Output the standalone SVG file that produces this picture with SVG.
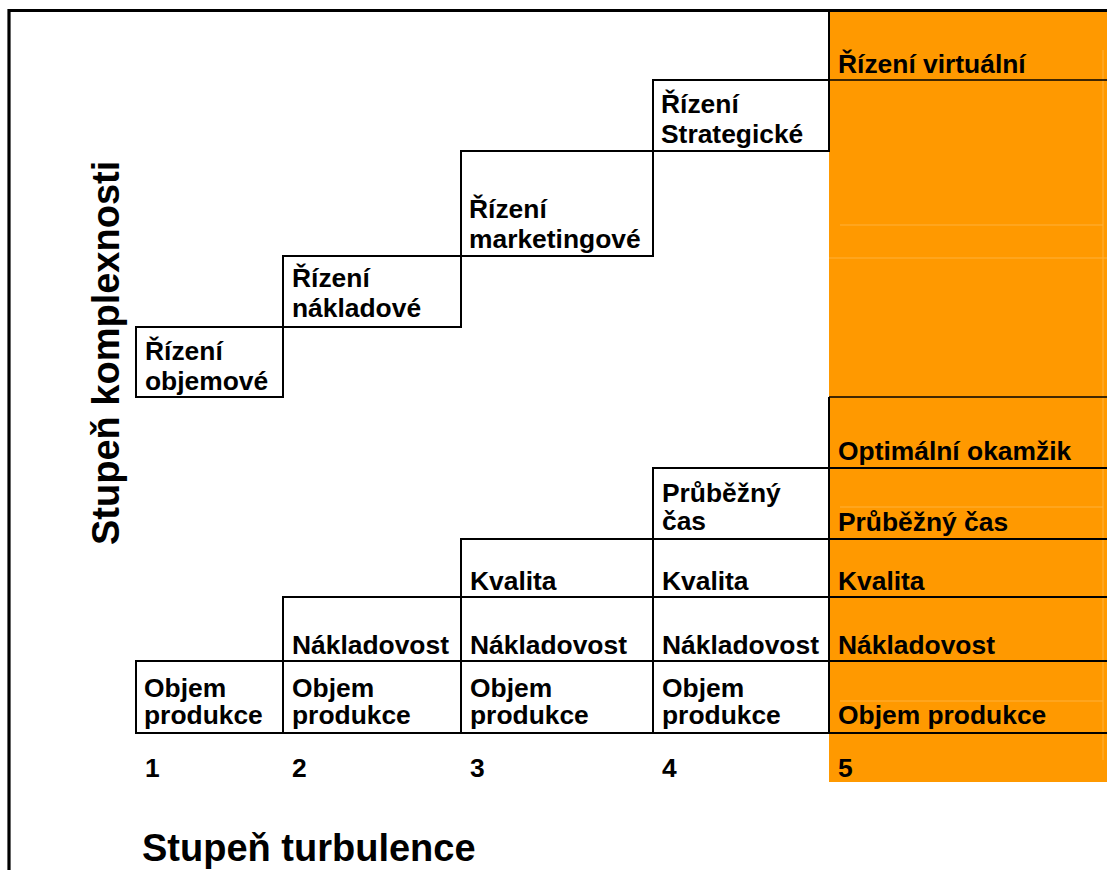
<svg xmlns="http://www.w3.org/2000/svg" width="1107" height="870" viewBox="0 0 1107 870">
<style>
text{font-family:"Liberation Sans",Arial,sans-serif;font-weight:bold;fill:#000}
.t{font-size:26.4px}
.ax{font-size:38px}
.cell{fill:none;stroke:#000;stroke-width:2}
.ln{stroke:#000;stroke-width:2;fill:none}
.frm{stroke:#000;stroke-width:3.2;fill:none}
.thin{stroke:#000;stroke-width:1.4;fill:none}
.faint{stroke:#FFB13B;stroke-width:1;fill:none}
</style>
<rect width="1107" height="870" fill="#fff"/>
<g id="level5-band">
<rect x="829" y="11" width="278" height="771" fill="#FF9900"/>
<line class="faint" x1="840" y1="225" x2="1103" y2="225"/>
<line class="faint" x1="829" y1="258" x2="1107" y2="258"/>
<line class="faint" x1="840" y1="507" x2="1103" y2="507"/>
<line class="faint" x1="840" y1="701" x2="1103" y2="701"/>
<line class="faint" x1="1103" y1="50" x2="1103" y2="760"/>
</g>
<g id="frame">
<path class="frm" d="M9,870 V10.5 H1107"/>
</g>
<g id="axis-y"><text class="ax" transform="translate(119,545) rotate(-90)">Stupeň komplexnosti</text></g>
<g id="axis-x"><text class="ax" x="142" y="861">Stupeň turbulence</text></g>

<g id="r-objemove"><rect class="cell" x="136" y="327" width="147" height="70"/><text class="t" x="145" y="360">Řízení</text><text class="t" x="145" y="390">objemové</text></g>
<g id="r-nakladove"><rect class="cell" x="283" y="256" width="178" height="71"/><text class="t" x="292" y="287">Řízení</text><text class="t" x="292" y="317">nákladové</text></g>
<g id="r-marketingove"><rect class="cell" x="461" y="151" width="192" height="105"/><text class="t" x="469" y="218">Řízení</text><text class="t" x="469" y="248">marketingové</text></g>
<g id="r-strategicke"><rect class="cell" x="653" y="80" width="176" height="71"/><text class="t" x="661" y="113">Řízení</text><text class="t" x="661" y="143">Strategické</text></g>
<g id="r-virtualni"><line class="ln" x1="829" y1="11" x2="829" y2="80"/><line class="thin" x1="829" y1="80" x2="1107" y2="80"/><text class="t" x="838" y="73">Řízení virtuální</text></g>

<g id="c1-objem"><rect class="cell" x="136" y="661" width="147" height="72"/><text class="t" x="144" y="697">Objem</text><text class="t" x="144" y="724">produkce</text></g>
<g id="c2-nakl"><rect class="cell" x="283" y="597" width="178" height="64"/><text class="t" x="292" y="654">Nákladovost</text></g>
<g id="c2-objem"><rect class="cell" x="283" y="661" width="178" height="72"/><text class="t" x="292" y="697">Objem</text><text class="t" x="292" y="724">produkce</text></g>
<g id="c3-kval"><rect class="cell" x="461" y="539" width="192" height="58"/><text class="t" x="470" y="590">Kvalita</text></g>
<g id="c3-nakl"><rect class="cell" x="461" y="597" width="192" height="64"/><text class="t" x="470" y="654">Nákladovost</text></g>
<g id="c3-objem"><rect class="cell" x="461" y="661" width="192" height="72"/><text class="t" x="470" y="697">Objem</text><text class="t" x="470" y="724">produkce</text></g>
<g id="c4-cas"><rect class="cell" x="653" y="468" width="176" height="71"/><text class="t" x="662" y="502">Průběžný</text><text class="t" x="662" y="530">čas</text></g>
<g id="c4-kval"><rect class="cell" x="653" y="539" width="176" height="58"/><text class="t" x="662" y="590">Kvalita</text></g>
<g id="c4-nakl"><rect class="cell" x="653" y="597" width="176" height="64"/><text class="t" x="662" y="654">Nákladovost</text></g>
<g id="c4-objem"><rect class="cell" x="653" y="661" width="176" height="72"/><text class="t" x="662" y="697">Objem</text><text class="t" x="662" y="724">produkce</text></g>

<g id="c5-opt"><line class="thin" x1="829" y1="397" x2="1107" y2="397"/><line class="ln" x1="829" y1="397" x2="829" y2="468"/><text class="t" x="838" y="460">Optimální okamžik</text></g>
<g id="c5-cas"><line class="ln" x1="829" y1="468" x2="1107" y2="468"/><line class="ln" x1="829" y1="468" x2="829" y2="539"/><text class="t" x="838" y="531">Průběžný čas</text></g>
<g id="c5-kval"><line class="ln" x1="829" y1="539" x2="1107" y2="539"/><line class="ln" x1="829" y1="539" x2="829" y2="597"/><text class="t" x="838" y="590">Kvalita</text></g>
<g id="c5-nakl"><line class="ln" x1="829" y1="597" x2="1107" y2="597"/><line class="ln" x1="829" y1="597" x2="829" y2="661"/><text class="t" x="838" y="654">Nákladovost</text></g>
<g id="c5-objem"><line class="ln" x1="829" y1="661" x2="1107" y2="661"/><line class="ln" x1="829" y1="661" x2="829" y2="733"/><line class="ln" x1="829" y1="733" x2="1107" y2="733"/><text class="t" x="838" y="724">Objem produkce</text></g>

<g id="levels">
<text class="t" x="145" y="777">1</text>
<text class="t" x="292" y="777">2</text>
<text class="t" x="470" y="777">3</text>
<text class="t" x="662" y="777">4</text>
<text class="t" x="838" y="777">5</text>
</g>
<g id="connectors"></g>
</svg>
